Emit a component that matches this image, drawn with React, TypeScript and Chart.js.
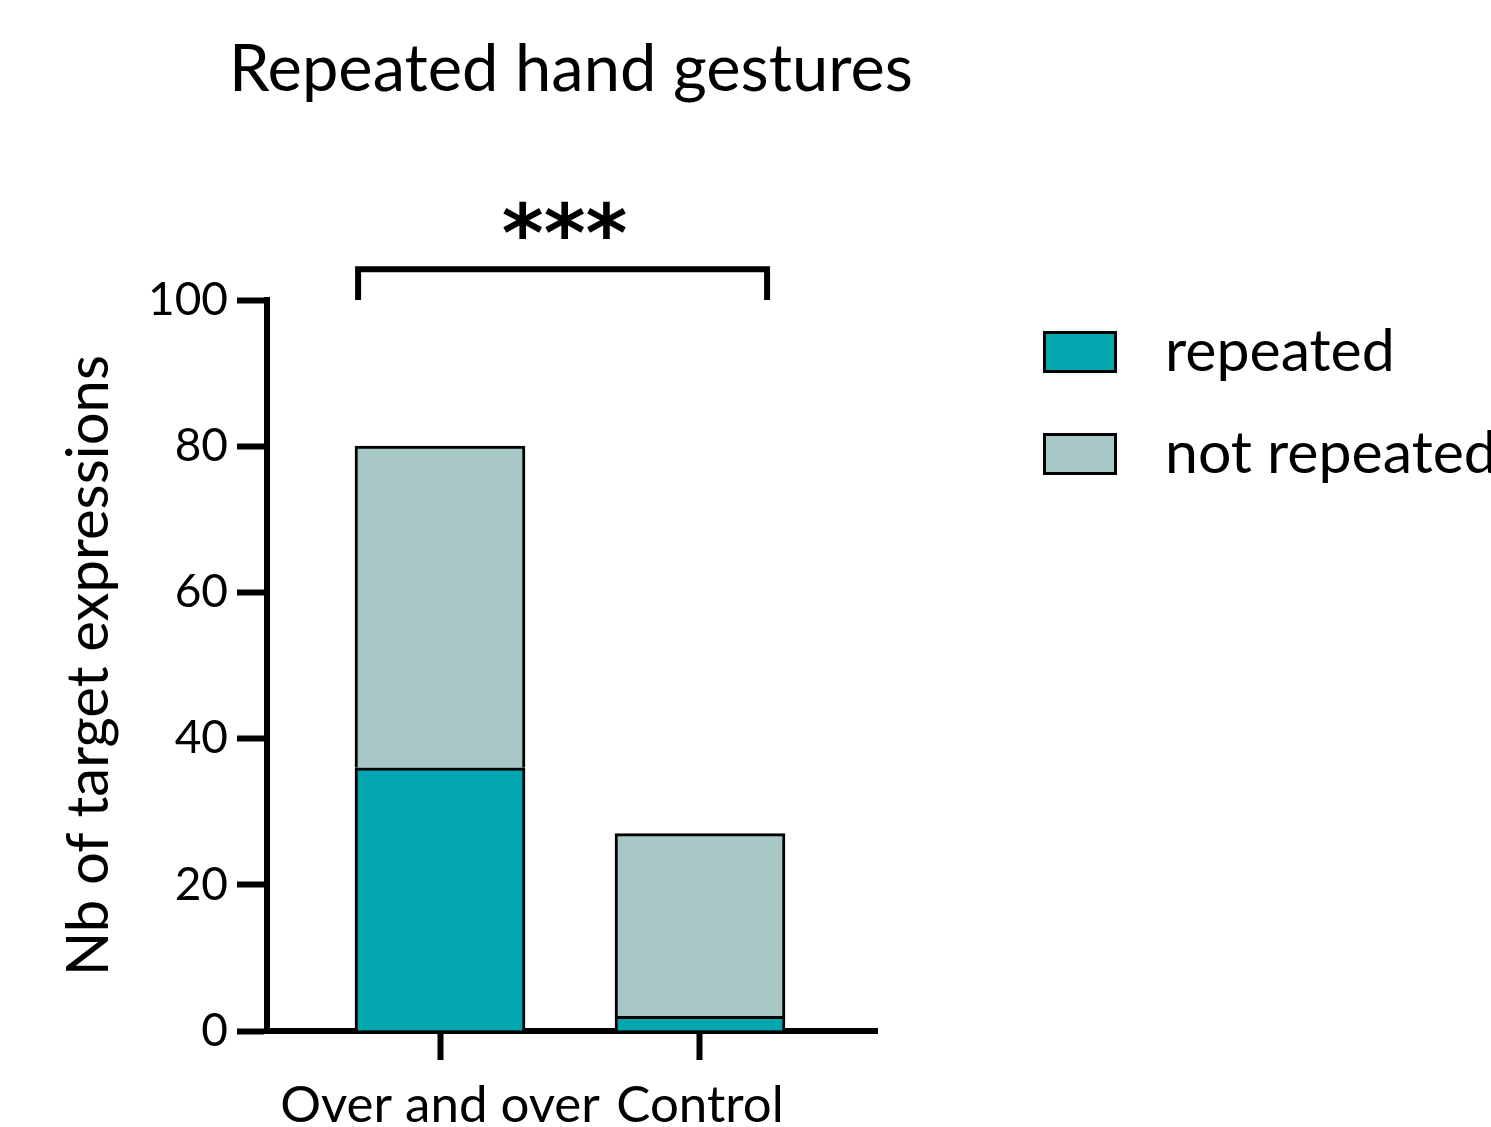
import React, { useEffect, useRef } from "react";
import { Chart, registerables } from "chart.js";

Chart.register(...registerables);

// ---- data ----
const categories = ["Over and over", "Control"];
const seriesLabels = ["repeated", "not repeated"];
const repeatedValues = [36, 2];
const notRepeatedValues = [44, 25];
const yTicks = [0, 20, 40, 60, 80, 100];
const titleText = "Repeated hand gestures";
const yAxisTitle = "Nb of target expressions";
const significanceLabel = "***";
// bracket in data space (x = category position, y = value)
const bracketFrom = 0.685;
const bracketTo = 2.258;
const bracketTop = 104.2;
const bracketLegBottom = 100;
const starsY = 108.9;

const COLORS = ["#02A6AE", "#A8C8C6"];
const FONT = "Lato";

const overlayPlugin = {
  id: "overlay",
  afterDraw(chart: any) {
    const { ctx } = chart;
    const xs = chart.scales.x;
    const ys = chart.scales.y;
    ctx.save();
    // title
    ctx.fillStyle = "#000";
    ctx.font = `65px ${FONT}`;
    ctx.textAlign = "center";
    ctx.textBaseline = "alphabetic";
    ctx.fillText(titleText, 571, 91);

    // bracket
    const x1 = xs.getPixelForValue(bracketFrom);
    const x2 = xs.getPixelForValue(bracketTo);
    const yt = ys.getPixelForValue(bracketTop);
    const yb = ys.getPixelForValue(bracketLegBottom);
    ctx.strokeStyle = "#000";
    ctx.lineWidth = 6;
    ctx.lineJoin = "miter";
    ctx.beginPath();
    ctx.moveTo(x1, yb);
    ctx.lineTo(x1, yt);
    ctx.lineTo(x2, yt);
    ctx.lineTo(x2, yb);
    ctx.stroke();

    // stars
    ctx.font = `bold 80px 'DejaVu Sans'`;
    ctx.textAlign = "center";
    ctx.textBaseline = "alphabetic";
    ctx.fillText(significanceLabel, (x1 + x2) / 2 + 2, ys.getPixelForValue(starsY) + 26);

    // legend
    const ds = chart.data.datasets;
    ds.forEach((d: any, i: number) => {
      const bx = 1043;
      const by = 331 + i * 102;
      ctx.fillStyle = d.backgroundColor;
      ctx.fillRect(bx, by, 74, 42);
      ctx.lineWidth = 3;
      ctx.strokeStyle = "#000";
      ctx.strokeRect(bx + 1.5, by + 1.5, 71, 39);
      ctx.fillStyle = "#000";
      ctx.font = `59px ${FONT}`;
      ctx.textAlign = "left";
      ctx.textBaseline = "middle";
      ctx.fillText(d.label, 1165, by + 21);
    });
    ctx.restore();
  },
};

export default function App() {
  const ref = useRef<HTMLCanvasElement>(null);
  useEffect(() => {
    if (!ref.current) return;
    Chart.defaults.font.family = FONT;
    const chart = new Chart(ref.current, {
      type: "bar",
      data: {
        datasets: [
          {
            label: seriesLabels[0],
            data: categories.map((_, i) => ({ x: i + 1, y: repeatedValues[i] })),
            backgroundColor: COLORS[0],
          },
          {
            label: seriesLabels[1],
            data: categories.map((_, i) => ({ x: i + 1, y: notRepeatedValues[i] })),
            backgroundColor: COLORS[1],
          },
        ] as any,
      },
      options: {
        responsive: false,
        animation: false,
        devicePixelRatio: 1,
        layout: { padding: { left: 54, right: 614, top: 300, bottom: 0 } },
        datasets: {
          bar: {
            barThickness: 170,
            borderWidth: { top: 3, left: 3, right: 3, bottom: 0 },
            borderColor: "#000",
            borderSkipped: false,
          } as any,
        },
        plugins: {
          legend: { display: false },
          title: { display: false },
          tooltip: { enabled: false },
        },
        scales: {
          x: {
            type: "linear",
            stacked: true,
            min: 0.3346,
            max: 2.6808,
            offset: false,
            afterBuildTicks: (scale: any) => {
              scale.ticks = categories.map((_, i) => ({ value: i + 1 }));
            },
            afterFit: (scale: any) => {
              scale.height = 96;
            },
            ticks: {
              color: "#000",
              font: { size: 51 },
              padding: 15,
              maxRotation: 0,
              autoSkip: false,
              callback: (v: any) => categories[Math.round(v) - 1] ?? "",
            },
            grid: {
              display: true,
              offset: false,
              drawOnChartArea: false,
              drawTicks: true,
              tickLength: 29,
              tickWidth: 6,
              tickColor: "#000",
            },
            border: { display: true, width: 6, color: "#000" },
          } as any,
          y: {
            type: "linear",
            stacked: true,
            min: 0,
            max: 100,
            afterBuildTicks: (scale: any) => {
              scale.ticks = yTicks.map((v) => ({ value: v }));
            },
            afterFit: (scale: any) => {
              scale.width = 213;
            },
            ticks: {
              color: "#000",
              font: { size: 46 },
              padding: 9,
            },
            grid: {
              display: true,
              offset: false,
              drawOnChartArea: false,
              drawTicks: true,
              tickLength: 30,
              tickWidth: 6,
              tickColor: "#000",
            },
            border: { display: true, width: 6, color: "#000" },
            title: {
              display: true,
              text: yAxisTitle,
              color: "#000",
              font: { size: 58 },
              padding: 0,
            },
          } as any,
        },
      },
      plugins: [overlayPlugin],
    });
    return () => chart.destroy();
  }, []);
  return (
    <canvas
      ref={ref}
      width={1491}
      height={1127}
      style={{ display: "block", position: "fixed", left: 0, top: 0, width: 1491, height: 1127 }}
    />
  );
}
